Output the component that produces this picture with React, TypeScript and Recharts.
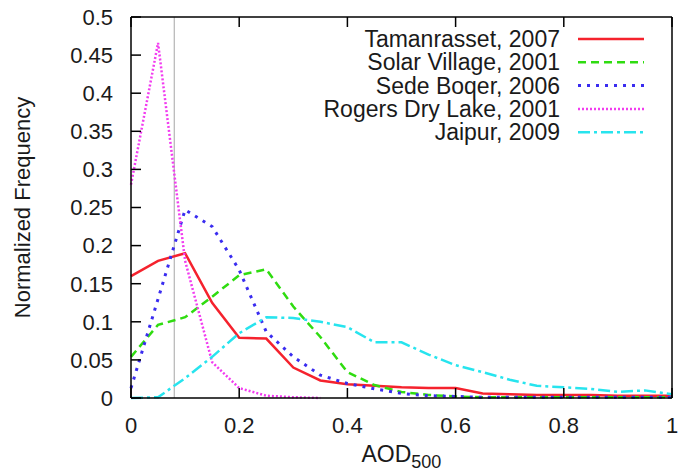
import * as React from "react";
import { Line, LineChart, ReferenceLine, XAxis, YAxis } from "recharts";

/* ── data (normalized AOD frequency, bins every 0.05) ───────────────────────── */

const AOD_BINS = [
  0, 0.05, 0.1, 0.15, 0.2, 0.25, 0.3, 0.35, 0.4, 0.45, 0.5, 0.55, 0.6, 0.65,
  0.7, 0.75, 0.8, 0.85, 0.9, 0.95, 1,
];

const TAMANRASSET = [
  0.16, 0.18, 0.19, 0.125, 0.079, 0.078, 0.04, 0.023, 0.018, 0.016, 0.014,
  0.013, 0.013, 0.006, 0.005, 0.004, 0.004, 0.004, 0.003, 0.003, 0.003,
];
const SOLAR_VILLAGE = [
  0.054, 0.096, 0.106, 0.133, 0.161, 0.169, 0.12, 0.08, 0.034, 0.017, 0.008,
  0.004, 0.002, 0.001, 0.001, 0.001, 0.001, 0.001, 0.001, 0.001, 0.001,
];
const SEDE_BOQER = [
  0.013, 0.13, 0.247, 0.225, 0.168, 0.087, 0.054, 0.03, 0.019, 0.012, 0.006,
  0.003, 0.002, 0.001, 0.001, 0.001, 0.001, 0.001, 0.001, 0.001, 0.001,
];
const ROGERS_DRY_LAKE = [
  0.28, 0.466, 0.18, 0.047, 0.013, 0.003, 0.001, 0.0, null, null, null, null,
  null, null, null, null, null, null, null, null, null,
];
const JAIPUR = [
  0, 0.001, 0.026, 0.054, 0.085, 0.106, 0.105, 0.1, 0.093, 0.073, 0.073, 0.057,
  0.043, 0.034, 0.024, 0.016, 0.014, 0.012, 0.008, 0.01, 0.005,
];

const X_TICKS = [0, 0.2, 0.4, 0.6, 0.8, 1];
const Y_TICKS = [0, 0.05, 0.1, 0.15, 0.2, 0.25, 0.3, 0.35, 0.4, 0.45, 0.5];
const THRESHOLD_AOD = 0.08;

/* ── series styling ─────────────────────────────────────────────────────────── */

const SERIES = [
  { key: "tam", name: "Tamanrasset, 2007", values: TAMANRASSET, color: "#f5222d", dash: undefined, width: 2.5 },
  { key: "sol", name: "Solar Village, 2001", values: SOLAR_VILLAGE, color: "#2fdc10", dash: "8 5", width: 2.5 },
  { key: "sede", name: "Sede Boqer, 2006", values: SEDE_BOQER, color: "#3a2cf0", dash: "3 6", width: 3 },
  { key: "rog", name: "Rogers Dry Lake, 2001", values: ROGERS_DRY_LAKE, color: "#f23cf0", dash: "2 2", width: 2.5 },
  { key: "jai", name: "Jaipur, 2009", values: JAIPUR, color: "#27e4ee", dash: "12 4 3 4", width: 2.5 },
];

const data = AOD_BINS.map((x, i) => {
  const row: Record<string, number | null> = { x };
  SERIES.forEach((s) => {
    row[s.key] = s.values[i];
  });
  return row;
});

const FONT = "'Liberation Sans', Arial, Helvetica, sans-serif";
const INK = "#1a1a1a";
const TICK_FONT = 22;
const LEGEND_FONT = 23;
const BORDER = { stroke: "#000", strokeWidth: 1.5 };

/* ── custom bits ────────────────────────────────────────────────────────────── */

const noTick = () => <g />;

function LegendBox() {
  return (
    <svg
      width={350}
      height={125}
      style={{ position: "absolute", left: 310, top: 27, overflow: "visible" }}
    >
      {SERIES.map((s, i) => {
        const cy = 12 + i * 23.3;
        return (
          <g key={s.key}>
            <text
              x={250}
              y={cy}
              textAnchor="end"
              dominantBaseline="central"
              fontFamily={FONT}
              fontSize={LEGEND_FONT}
              fill={INK}
            >
              {s.name}
            </text>
            <line
              x1={268}
              x2={334}
              y1={cy}
              y2={cy}
              stroke={s.color}
              strokeWidth={s.width}
              strokeDasharray={s.dash}
            />
          </g>
        );
      })}
    </svg>
  );
}

function XTitle(props: any) {
  const vb = props.viewBox;
  const cx = vb.x + vb.width / 2;
  return (
    <text x={cx - 40} y={vb.y + 64} fontFamily={FONT} fill={INK}>
      <tspan fontSize={23}>AOD</tspan>
      <tspan fontSize={18} dy={6}>
        500
      </tspan>
    </text>
  );
}

function YTitle(props: any) {
  const vb = props.viewBox;
  const cy = vb.y + vb.height / 2;
  const cx = 22;
  return (
    <text
      x={cx}
      y={cy}
      transform={`rotate(-90 ${cx} ${cy})`}
      textAnchor="middle"
      dominantBaseline="central"
      fontFamily={FONT}
      fontSize={TICK_FONT}
      fill={INK}
    >
      Normalized Frequency
    </text>
  );
}

export default function App() {
  return (
    <div style={{ position: "absolute", left: 0, top: 0, width: 679, height: 474, background: "#fff" }}>
      <LineChart
        width={679}
        height={474}
        data={data}
        margin={{ top: 16, right: 6, left: 0, bottom: 0 }}
      >
        <XAxis
          xAxisId="bottom"
          dataKey="x"
          type="number"
          domain={[0, 1]}
          ticks={X_TICKS}
          interval={0}
          height={76}
          tickSize={-10}
          tickMargin={29}
          axisLine={BORDER}
          tickLine={BORDER}
          tick={{ fill: INK, fontSize: TICK_FONT, fontFamily: FONT }}
          label={<XTitle />}
        />
        <XAxis
          xAxisId="top"
          orientation="top"
          dataKey="x"
          type="number"
          domain={[0, 1]}
          ticks={X_TICKS}
          interval={0}
          height={1}
          tickSize={-10}
          axisLine={BORDER}
          tickLine={BORDER}
          tick={noTick}
        />
        <YAxis
          yAxisId="left"
          type="number"
          domain={[0, 0.5]}
          ticks={Y_TICKS}
          interval={0}
          width={131}
          tickSize={-10}
          tickMargin={28}
          axisLine={BORDER}
          tickLine={BORDER}
          tick={{ fill: INK, fontSize: TICK_FONT, fontFamily: FONT }}
          label={<YTitle />}
        />
        <YAxis
          yAxisId="right"
          orientation="right"
          type="number"
          domain={[0, 0.5]}
          ticks={Y_TICKS}
          interval={0}
          width={1}
          tickSize={-10}
          axisLine={BORDER}
          tickLine={BORDER}
          tick={noTick}
        />
        <ReferenceLine
          xAxisId="bottom"
          yAxisId="left"
          x={THRESHOLD_AOD}
          stroke="#b4b4b4"
          strokeWidth={1.2}
        />
        {SERIES.map((s) => (
          <Line
            key={s.key}
            xAxisId="bottom"
            yAxisId="left"
            type="linear"
            dataKey={s.key}
            name={s.name}
            stroke={s.color}
            strokeWidth={s.width}
            strokeDasharray={s.dash}
            dot={false}
            activeDot={false}
            isAnimationActive={false}
          />
        ))}
      </LineChart>
      <LegendBox />
    </div>
  );
}
